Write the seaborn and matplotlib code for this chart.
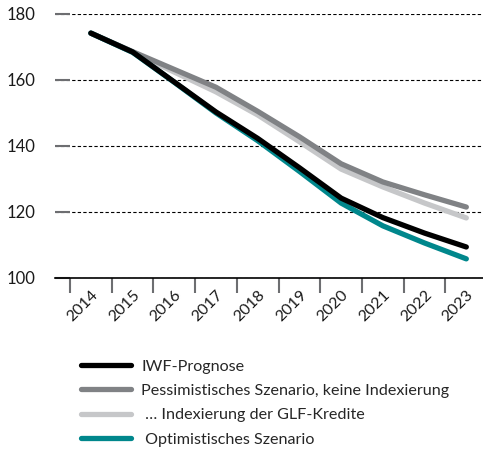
import pandas as pd
import matplotlib
matplotlib.use('Agg')
import matplotlib.pyplot as plt
import seaborn as sns

# Data
years = ['2014', '2015', '2016', '2017', '2018', '2019', '2020', '2021', '2022', '2023']
iwf = [174.2, 168.5, 159.4, 150.3, 142.3, 133.4, 124.2, 118.3, 113.6, 109.4]
pessimistisch = [174.2, 168.6, 163.2, 157.8, 150.5, 142.8, 134.6, 129.1, 125.2, 121.5]
indexierung = [174.2, 168.4, 162.4, 156.4, 149.4, 141.3, 133.0, 127.6, 122.7, 118.2]
optimistisch = [174.2, 168.4, 159.3, 150.0, 141.6, 132.3, 122.7, 115.8, 110.6, 105.8]

labels = ['IWF-Prognose', 'Pessimistisches Szenario, keine Indexierung',
          ' … Indexierung der GLF-Kredite', ' Optimistisches Szenario']
colors = ['#000000', '#808285', '#c6c7c9', '#00878c']

sns.set_theme(style='white')
plt.rcParams['font.family'] = ['Lato', 'DejaVu Sans']

fig = plt.figure(figsize=(4.83, 4.61), dpi=100)
ax = fig.add_axes([55 / 483, 183 / 461, 428 / 483, 264 / 461])

series = [iwf, pessimistisch, indexierung, optimistisch]
df = pd.DataFrame({'Jahr': years})
for lab, vals in zip(labels, series):
    df[lab] = vals

# draw order: light gray, dark gray, teal, black on top
handles = {}
for i in [2, 1, 3, 0]:
    sns.lineplot(data=df, x='Jahr', y=labels[i], ax=ax, color=colors[i],
                 linewidth=3.8, solid_capstyle='round', label=labels[i])
for line in ax.get_lines():
    handles[line.get_label()] = line

ax.set_ylim(100, 180)
ax.set_xlim(-0.86, 9.4)
ax.set_yticks([100, 120, 140, 160, 180])
ax.set_xlabel('')
ax.set_ylabel('')

# x ticks between categories, labels at category centres
ax.set_xticks([i - 0.5 for i in range(len(years))])
ax.set_xticklabels([])
ax.set_xticks(range(len(years)), minor=True)
ax.set_xticklabels(years, minor=True, rotation=45, ha='right', rotation_mode='anchor',
                   fontsize=11.5, color='#1a1a1a')
ax.tick_params(axis='x', which='major', direction='out', length=11, width=1.5,
               color='#6d6e71', bottom=True)
ax.tick_params(axis='x', which='minor', length=0, pad=7)
ax.tick_params(axis='y', direction='in', length=11, width=1.5, color='#6d6e71',
               left=True, labelsize=12, labelcolor='#1a1a1a', pad=14)

ax.grid(axis='y', linestyle=(0, (3, 2)), color='#000000', linewidth=0.8)
ax.set_axisbelow(True)
for s in ['top', 'right', 'left']:
    ax.spines[s].set_visible(False)
ax.spines['bottom'].set_color('#000000')
ax.spines['bottom'].set_linewidth(1.2)

ax.get_legend().remove()
fig.legend([handles[l] for l in labels], labels, loc='upper left',
           bbox_to_anchor=(75 / 483, 1 - 353 / 461), frameon=False,
           fontsize=11.6, handlelength=3.1, handletextpad=0.6, labelspacing=0.62,
           borderaxespad=0)

fig.savefig('out.png', dpi=100)
